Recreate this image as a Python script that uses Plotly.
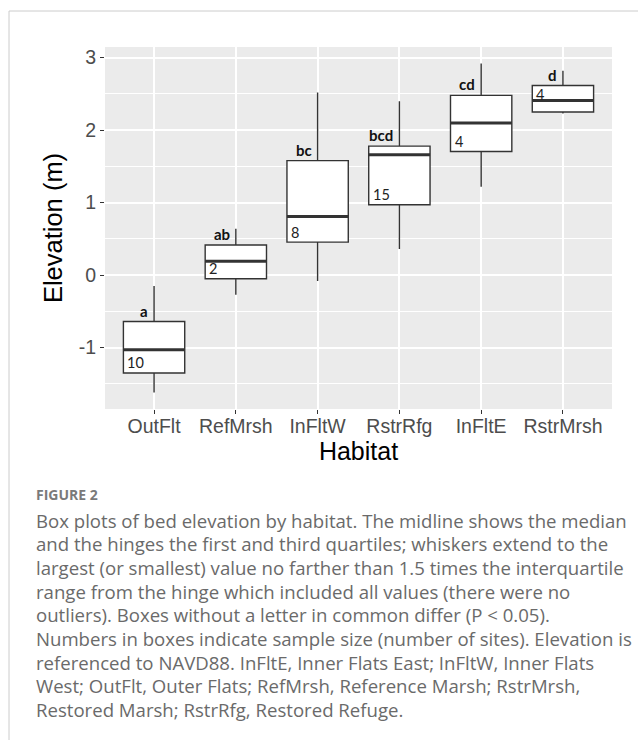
import plotly.graph_objects as go

# Bed elevation summary per habitat (m, NAVD88)
habitats = ["OutFlt", "RefMrsh", "InFltW", "RstrRfg", "InFltE", "RstrMrsh"]
lower_whisker = [-1.62, -0.27, -0.08, 0.36, 1.22, 2.23]
q1 = [-1.35, -0.05, 0.455, 0.97, 1.705, 2.25]
median = [-1.03, 0.19, 0.81, 1.66, 2.10, 2.41]
q3 = [-0.64, 0.415, 1.58, 1.78, 2.48, 2.615]
upper_whisker = [-0.15, 0.64, 2.52, 2.40, 2.92, 2.82]
letters = ["a", "ab", "bc", "bcd", "cd", "d"]
n_sites = [10, 2, 8, 15, 4, 4]
y_ticks = [-1, 0, 1, 2, 3]
y_tick_labels = ["-1", "0", "1", "2", "3"]

caption_lines = [
    "Box plots of bed elevation by habitat. The midline shows the median",
    "and the hinges the first and third quartiles; whiskers extend to the",
    "largest (or smallest) value no farther than 1.5 times the interquartile",
    "range from the hinge which included all values (there were no",
    "outliers). Boxes without a letter in common differ (P < 0.05).",
    "Numbers in boxes indicate sample size (number of sites). Elevation is",
    "referenced to NAVD88. InFltE, Inner Flats East; InFltW, Inner Flats",
    "West; OutFlt, Outer Flats; RefMrsh, Reference Marsh; RstrMrsh,",
    "Restored Marsh; RstrRfg, Restored Refuge.",
]

W, H = 638, 740
L, R, T, B = 105, 612, 47, 409   # plotting panel edges in pixels
BOX_W = 0.75
AXIS_FONT = "Liberation Sans, Arial, sans-serif"
CAPTION_FONT = "Open Sans, sans-serif"


def px(x):
    return (x - L) / (R - L)


def py(y):
    return (B - y) / (B - T)


pos = list(range(len(habitats)))
span = max(upper_whisker) - min(lower_whisker)
y_range = [min(lower_whisker) - 0.05 * span, max(upper_whisker) + 0.05 * span]

fig = go.Figure()

fig.add_trace(go.Box(
    x=pos,
    q1=q1, median=median, q3=q3,
    lowerfence=lower_whisker, upperfence=upper_whisker,
    width=BOX_W, whiskerwidth=0,
    fillcolor="white",
    line=dict(color="#333333", width=1.4),
    boxpoints=False,
    hoverinfo="skip",
    showlegend=False,
))

# heavier median bars, ggplot style
mx, my = [], []
for i, m in zip(pos, median):
    mx += [i - BOX_W / 2, i + BOX_W / 2, None]
    my += [m, m, None]
fig.add_trace(go.Scatter(
    x=mx, y=my, mode="lines",
    line=dict(color="#333333", width=3),
    hoverinfo="skip", showlegend=False,
))

annotations = []
# compact-letter display above each box
for i, lab, top in zip(pos, letters, q3):
    annotations.append(dict(
        x=i, y=top, xref="x", yref="y", text=f"<b>{lab}</b>",
        showarrow=False, xanchor="right", yanchor="bottom",
        xshift=-4, yshift=0,
        font=dict(family="Lato, sans-serif", size=15, color="#111111"),
    ))
# sample sizes written inside the boxes
for i, n, lo, hi in zip(pos, n_sites, q1, q3):
    at_top = hi - lo < 0.5 and i == len(pos) - 1
    annotations.append(dict(
        x=i - BOX_W / 2, y=hi if at_top else lo, xref="x", yref="y",
        text=str(n), showarrow=False, xanchor="left", yanchor="middle",
        xshift=2, yshift=-9 if at_top else 10,
        font=dict(family="Lato, sans-serif", size=14.5, color="#222222"),
    ))

# figure label and caption
CAP_X = 34
annotations.append(dict(
    x=px(CAP_X), y=py(494), xref="paper", yref="paper", text="<b>FIGURE 2</b>",
    showarrow=False, xanchor="left", yanchor="middle",
    font=dict(family=CAPTION_FONT, size=14, color="#7a7a7a"),
))
for k, line in enumerate(caption_lines):
    annotations.append(dict(
        x=px(CAP_X), y=py(520 + 23.7 * k), xref="paper", yref="paper", text=line,
        showarrow=False, xanchor="left", yanchor="middle",
        font=dict(family=CAPTION_FONT, size=18.6, color="#6a6a6a"),
    ))

shapes = [
    dict(type="line", xref="paper", yref="paper",
         x0=px(9), x1=px(W), y0=py(11), y1=py(11),
         line=dict(color="#cccccc", width=1)),
    dict(type="line", xref="paper", yref="paper",
         x0=px(9), x1=px(9), y0=py(11), y1=py(H),
         line=dict(color="#cccccc", width=1)),
]

fig.update_layout(
    width=W, height=H,
    margin=dict(l=L, r=W - R, t=T, b=H - B),
    paper_bgcolor="white",
    plot_bgcolor="#EBEBEB",
    annotations=annotations,
    shapes=shapes,
    showlegend=False,
)

fig.update_xaxes(
    range=[-0.6, len(habitats) - 0.4],
    tickmode="array", tickvals=pos, ticktext=habitats,
    showgrid=True, gridcolor="white", gridwidth=1.5,
    zeroline=False, showline=False,
    ticks="outside", ticklen=4, tickwidth=1, tickcolor="#333333",
    ticklabelstandoff=-4,
    tickfont=dict(family=AXIS_FONT, size=19.5, color="#4D4D4D"),
    title=dict(text="Habitat", standoff=0,
               font=dict(family=AXIS_FONT, size=25, color="black")),
)
fig.update_yaxes(
    range=y_range,
    tickmode="array", tickvals=y_ticks, ticktext=y_tick_labels,
    showgrid=True, gridcolor="white", gridwidth=1.5,
    minor=dict(tickvals=[t + 0.5 for t in y_ticks[:-1]] + [y_ticks[0] - 0.5],
               showgrid=True, gridcolor="white", gridwidth=0.8, ticks=""),
    zeroline=False, showline=False,
    ticks="outside", ticklen=4, tickwidth=1, tickcolor="#333333",
    tickfont=dict(family=AXIS_FONT, size=19.5, color="#4D4D4D"),
    title=dict(text="Elevation (m)", standoff=8,
               font=dict(family=AXIS_FONT, size=25.5, color="black")),
)

fig.write_html("out.html")
